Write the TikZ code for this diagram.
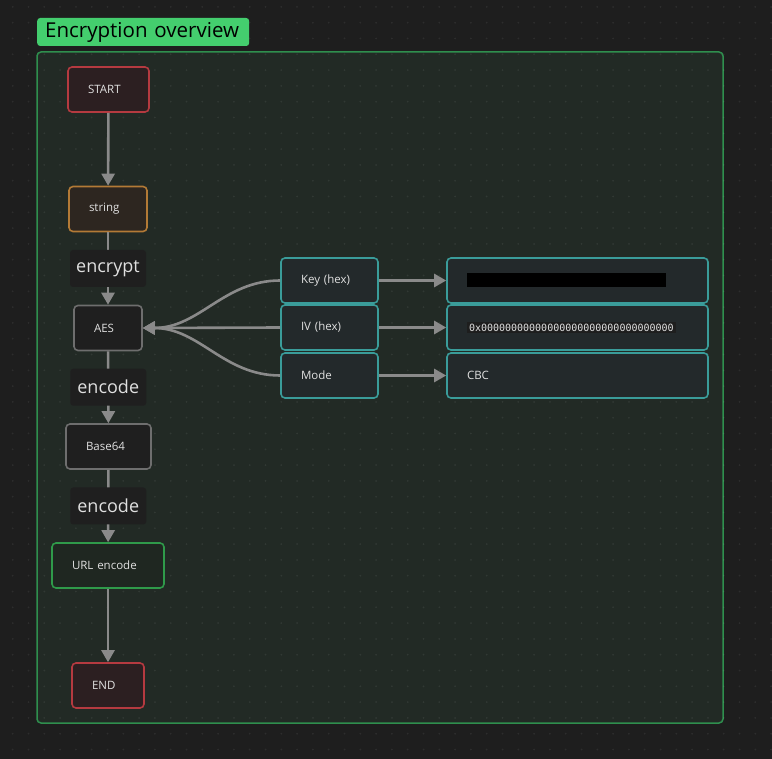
\documentclass[tikz,border=0pt]{standalone}
\usepackage{fontspec}
\setmainfont{Open Sans}
\setmonofont{DejaVu Sans Mono}
\usetikzlibrary{arrows.meta}

\definecolor{canvas}{HTML}{1E1E1E}
\definecolor{groupfill}{HTML}{222A25}
\definecolor{groupline}{HTML}{2F8F4E}
\definecolor{titlefill}{HTML}{44CE6E}
\definecolor{termline}{HTML}{B53A40}
\definecolor{termfill}{HTML}{2C1F21}
\definecolor{inputline}{HTML}{B37A36}
\definecolor{inputfill}{HTML}{2D2620}
\definecolor{stepline}{HTML}{6E6E6E}
\definecolor{stepfill}{HTML}{1F1F1F}
\definecolor{outline}{HTML}{2F9A4A}
\definecolor{outfill}{HTML}{1F2721}
\definecolor{paramline}{HTML}{3A9C9A}
\definecolor{paramfill}{HTML}{23292B}
\definecolor{flowgray}{HTML}{8A8A8A}
\definecolor{nodetext}{HTML}{E0E0E0}
\definecolor{codefill}{HTML}{1E1E1E}

\tikzset{
  nodebox/.style={draw, line width=1.6pt, rounded corners=4pt, minimum height=45pt,
    inner xsep=20pt, inner ysep=0pt, text=nodetext, align=left,
    font=\fontsize{11.5}{13}\selectfont},
  terminal/.style={nodebox, draw=termline, fill=termfill},
  inputbox/.style={nodebox, draw=inputline, fill=inputfill},
  stepbox/.style={nodebox, draw=stepline, fill=stepfill},
  outbox/.style={nodebox, draw=outline, fill=outfill},
  parambox/.style={nodebox, draw=paramline, fill=paramfill},
  flow/.style={draw=flowgray, line width=2.6pt, -{Triangle[length=12pt,width=13pt]}},
  edgelabel/.style={fill=stepfill, rounded corners=3pt, text=nodetext,
    font=\fontsize{18}{20}\selectfont, minimum width=76pt, minimum height=37pt, inner sep=0pt},
}

\begin{document}
\begin{tikzpicture}[x=1pt,y=-1pt]
\useasboundingbox (0,0) rectangle (772,759);
\fill[canvas] (0,0) rectangle (772,759);

\draw[groupline, fill=groupfill, line width=1.5pt, rounded corners=4pt] (37,52) rectangle (723,723);

\foreach \i in {0,...,48} {
  \foreach \j in {0,...,47} {
    \fill[white, opacity=0.07] ({12.7+15.8*\i},{6.9+15.8*\j}) circle (1);
  }
}

\node[fill=titlefill, rounded corners=3pt, anchor=west, minimum width=212pt, minimum height=28pt,
  inner xsep=8pt, inner ysep=0pt, align=left, text width=196pt,
  font=\fontsize{20.5}{22}\selectfont] (title) at (37,32) {\raisebox{-1.5pt}{Encryption overview}};

\node[terminal, text width=41pt] (start) at (108.5,89.5) {START};
\node[inputbox, text width=38pt] (str) at (108,209) {string};
\node[stepbox, text width=28pt] (aes) at (108,328) {AES};
\node[stepbox, text width=45pt] (b64) at (108.5,446.5) {Base64};
\node[outbox, text width=72pt] (url) at (108,565.5) {URL encode};
\node[terminal, text width=32pt] (end) at (108,685.5) {END};

\node[parambox, text width=57pt] (key) at (329.5,280.5) {Key (hex)};
\node[parambox, text width=57pt] (iv) at (329.5,327.5) {IV (hex)};
\node[parambox, text width=57pt] (mode) at (329.5,375.5) {Mode};

\node[parambox, text width=221pt] (keyval) at (577.5,280.5) {\textcolor{black}{\rule{199pt}{14pt}}};
\node[parambox, text width=221pt] (ivval) at (577.5,327.5)
  {\setlength{\fboxsep}{2pt}\colorbox{codefill}{\fontsize{10}{12}\selectfont\ttfamily 0x00000000000000000000000000000000}};
\node[parambox, text width=221pt] (modeval) at (577.5,375.5) {CBC};

\draw[flow] (start) -- (str);
\draw[flow] (str) -- node[edgelabel] {encrypt} (aes);
\draw[flow] (aes) -- node[edgelabel] {encode} (b64);
\draw[flow] (b64) -- node[edgelabel] {encode} (url);
\draw[flow] (url) -- (end);

\draw[flow] (key.west) to[out=180,in=0] (aes.east);
\draw[flow] (iv.west) -- (aes.east);
\draw[flow] (mode.west) to[out=180,in=0] (aes.east);

\draw[flow] (key) -- (keyval);
\draw[flow] (iv) -- (ivval);
\draw[flow] (mode) -- (modeval);
\end{tikzpicture}
\end{document}
